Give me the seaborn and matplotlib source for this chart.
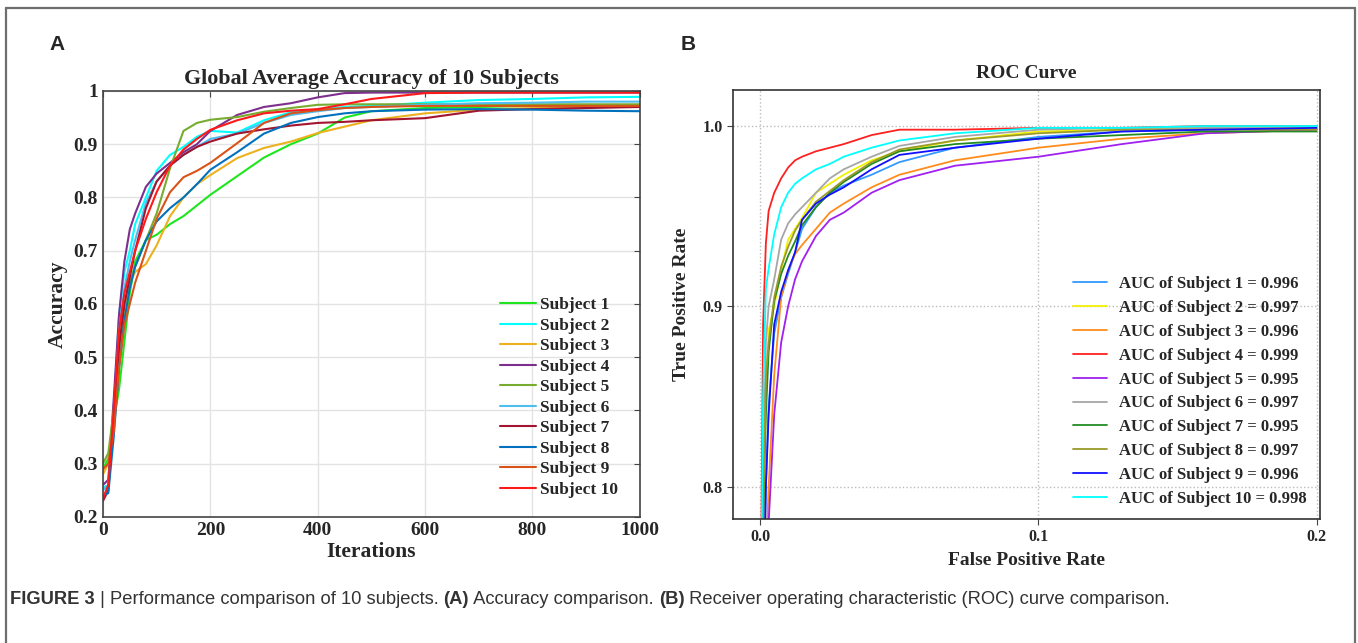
import matplotlib
matplotlib.use("Agg")
import matplotlib.pyplot as plt
import seaborn as sns
import pandas as pd
from matplotlib.lines import Line2D

sns.set_style("white")
plt.rcParams['font.family'] = ['Liberation Serif', 'DejaVu Serif']
plt.rcParams['font.weight'] = 'bold'

# ---- panel A: accuracy vs iterations ----
iters = [0, 10, 20, 30, 40, 50, 60, 80, 100, 125, 150, 175, 200, 250, 300,
         350, 400, 450, 500, 600, 700, 800, 900, 1000]
acc_s1 = [0.29, 0.31, 0.38, 0.44, 0.53, 0.62, 0.68, 0.72, 0.73, 0.75, 0.765, 0.785, 0.805, 0.84, 0.875,
          0.90, 0.92, 0.95, 0.962, 0.968, 0.97, 0.972, 0.972, 0.972]
acc_s2 = [0.255, 0.26, 0.40, 0.58, 0.66, 0.70, 0.75, 0.80, 0.85, 0.88, 0.895, 0.914, 0.925, 0.922, 0.945,
          0.96, 0.965, 0.97, 0.972, 0.978, 0.983, 0.985, 0.988, 0.989]
acc_s3 = [0.28, 0.30, 0.38, 0.50, 0.58, 0.64, 0.66, 0.675, 0.71, 0.765, 0.80, 0.825, 0.842, 0.874, 0.893,
          0.905, 0.921, 0.933, 0.945, 0.958, 0.965, 0.968, 0.97, 0.972]
acc_s4 = [0.26, 0.27, 0.42, 0.58, 0.68, 0.74, 0.77, 0.82, 0.845, 0.865, 0.885, 0.90, 0.925, 0.955, 0.97,
          0.977, 0.988, 0.996, 0.997, 0.997, 0.997, 0.997, 0.997, 0.997]
acc_s5 = [0.30, 0.32, 0.40, 0.52, 0.60, 0.64, 0.67, 0.72, 0.77, 0.855, 0.925, 0.94, 0.946, 0.951, 0.961,
          0.968, 0.974, 0.975, 0.975, 0.975, 0.975, 0.975, 0.975, 0.975]
acc_s6 = [0.25, 0.26, 0.38, 0.55, 0.63, 0.68, 0.72, 0.79, 0.83, 0.86, 0.88, 0.895, 0.91, 0.92, 0.94,
          0.955, 0.962, 0.968, 0.97, 0.974, 0.977, 0.978, 0.98, 0.98]
acc_s7 = [0.23, 0.25, 0.38, 0.52, 0.60, 0.65, 0.70, 0.78, 0.83, 0.86, 0.88, 0.895, 0.905, 0.92, 0.928,
          0.935, 0.94, 0.942, 0.945, 0.949, 0.963, 0.966, 0.968, 0.97]
acc_s8 = [0.24, 0.245, 0.35, 0.48, 0.57, 0.63, 0.67, 0.72, 0.755, 0.78, 0.80, 0.825, 0.852, 0.885, 0.92,
          0.94, 0.951, 0.958, 0.962, 0.965, 0.966, 0.965, 0.963, 0.962]
acc_s9 = [0.29, 0.30, 0.36, 0.48, 0.56, 0.60, 0.64, 0.70, 0.76, 0.81, 0.838, 0.85, 0.865, 0.902, 0.94,
          0.958, 0.964, 0.968, 0.97, 0.972, 0.972, 0.972, 0.972, 0.972]
acc_s10 = [0.235, 0.26, 0.40, 0.55, 0.62, 0.66, 0.70, 0.76, 0.81, 0.86, 0.89, 0.91, 0.927, 0.945, 0.958,
           0.963, 0.966, 0.975, 0.985, 0.996, 0.997, 0.997, 0.997, 0.997]
acc_all = [acc_s1, acc_s2, acc_s3, acc_s4, acc_s5, acc_s6, acc_s7, acc_s8, acc_s9, acc_s10]
acc_labels = ["Subject %d" % i for i in range(1, 11)]
acc_colors = ['#1ee61e', '#00ffff', '#edb120', '#7e2f8e', '#77ac30',
              '#4dbeee', '#a2142f', '#0072bd', '#d95319', '#ff1a1a']

# ---- panel B: ROC curves, zoomed ----
fpr = [0.0, 0.001, 0.002, 0.003, 0.005, 0.0075, 0.01, 0.0125, 0.015, 0.02, 0.025,
       0.03, 0.04, 0.05, 0.07, 0.10, 0.13, 0.16, 0.20]
tpr_s1 = [0.65, 0.73, 0.80, 0.845, 0.885, 0.905, 0.918, 0.93, 0.943, 0.955, 0.963,
          0.967, 0.973, 0.98, 0.988, 0.994, 0.997, 0.998, 0.998]
tpr_s2 = [0.70, 0.78, 0.85, 0.887, 0.90, 0.92, 0.937, 0.943, 0.949, 0.963, 0.968,
          0.973, 0.981, 0.986, 0.992, 0.997, 0.998, 0.999, 0.999]
tpr_s3 = [0.65, 0.70, 0.76, 0.80, 0.862, 0.905, 0.92, 0.929, 0.934, 0.943, 0.952,
          0.957, 0.966, 0.973, 0.981, 0.988, 0.993, 0.996, 0.998]
tpr_s4 = [0.70, 0.89, 0.935, 0.953, 0.963, 0.971, 0.977, 0.981, 0.983, 0.986, 0.988,
          0.99, 0.995, 0.998, 0.998, 0.999, 0.999, 1.0, 1.0]
tpr_s5 = [0.62, 0.68, 0.74, 0.78, 0.84, 0.88, 0.90, 0.915, 0.925, 0.939, 0.948,
          0.952, 0.963, 0.97, 0.978, 0.983, 0.99, 0.996, 0.998]
tpr_s6 = [0.70, 0.80, 0.88, 0.90, 0.915, 0.937, 0.946, 0.951, 0.955, 0.963, 0.971,
          0.976, 0.983, 0.989, 0.994, 0.998, 0.999, 0.999, 1.0]
tpr_s7 = [0.70, 0.78, 0.84, 0.875, 0.903, 0.918, 0.928, 0.936, 0.945, 0.955, 0.963,
          0.969, 0.979, 0.986, 0.99, 0.993, 0.995, 0.997, 0.997]
tpr_s8 = [0.70, 0.78, 0.86, 0.88, 0.905, 0.922, 0.933, 0.942, 0.948, 0.958, 0.964,
          0.97, 0.98, 0.987, 0.992, 0.996, 0.998, 0.998, 0.998]
tpr_s9 = [0.65, 0.72, 0.80, 0.84, 0.89, 0.908, 0.92, 0.93, 0.948, 0.957, 0.962,
          0.966, 0.976, 0.984, 0.988, 0.993, 0.997, 0.998, 0.999]
tpr_s10 = [0.70, 0.85, 0.91, 0.921, 0.94, 0.955, 0.963, 0.968, 0.971, 0.976, 0.979,
           0.983, 0.988, 0.992, 0.996, 0.999, 0.999, 1.0, 1.0]
tpr_all = [tpr_s1, tpr_s2, tpr_s3, tpr_s4, tpr_s5, tpr_s6, tpr_s7, tpr_s8, tpr_s9, tpr_s10]
auc_vals = [0.996, 0.997, 0.996, 0.999, 0.995, 0.997, 0.995, 0.997, 0.996, 0.998]
roc_colors = ['#3399ff', '#f2f200', '#ff8c1a', '#ff2020', '#a020f0',
              '#a6a6a6', '#228b22', '#9a9a2a', '#1010ff', '#00ffff']

fig = plt.figure(figsize=(13.58, 6.43), dpi=100)

# ---------- A ----------
axA = fig.add_axes([0.0758, 0.196, 0.3954, 0.6625])
for vals, lab, col in zip(acc_all, acc_labels, acc_colors):
    df = pd.DataFrame({"it": iters, "acc": vals})
    sns.lineplot(data=df, x="it", y="acc", color=col, lw=1.5, label=lab, ax=axA)
axA.set_xlim(0, 1000)
axA.set_ylim(0.2, 1.0)
axA.set_xticks([0, 200, 400, 600, 800, 1000])
axA.set_yticks([0.2, 0.3, 0.4, 0.5, 0.6, 0.7, 0.8, 0.9, 1.0])
axA.set_yticklabels(['0.2', '0.3', '0.4', '0.5', '0.6', '0.7', '0.8', '0.9', '1'])
axA.grid(True, color='#e3e3e3', lw=1)
axA.tick_params(direction='in', top=True, right=True, length=4, labelsize=14, color='#444444')
for s in axA.spines.values():
    s.set_color('#444444')
    s.set_linewidth(1.2)
axA.set_xlabel("Iterations", fontsize=15.5, fontweight='bold', labelpad=2)
axA.set_ylabel("Accuracy", fontsize=15.5, fontweight='bold', labelpad=4)
axA.set_title("Global Average Accuracy of 10 Subjects", fontsize=15.8, fontweight='bold', pad=5)
axA.legend(loc='upper left', bbox_to_anchor=(0.739, 0.516), frameon=False, fontsize=12.5,
           handlelength=2.1, handletextpad=0.2, labelspacing=0.25, borderpad=0, borderaxespad=0)

# ---------- B ----------
axB = fig.add_axes([0.5398, 0.1928, 0.4322, 0.6672])
for vals, a, col, i in zip(tpr_all, auc_vals, roc_colors, range(1, 11)):
    df = pd.DataFrame({"fpr": fpr, "tpr": vals})
    sns.lineplot(data=df, x="fpr", y="tpr", color=col, lw=1.3,
                 label="AUC of Subject %d = %.3f" % (i, a), ax=axB)
axB.set_xlim(-0.0098, 0.2012)
axB.set_ylim(0.782, 1.02)
axB.set_xticks([0.0, 0.1, 0.2])
axB.set_yticks([0.8, 0.9, 1.0])
axB.grid(True, color='#bbbbbb', ls=':', lw=1)
axB.tick_params(direction='out', length=4, labelsize=11.5, color='#444444', left=True, bottom=True)
for s in axB.spines.values():
    s.set_color('#333333')
    s.set_linewidth(1.2)
axB.set_xlabel("False Positive Rate", fontsize=14, fontweight='bold', labelpad=5)
axB.set_ylabel("True Positive Rate", fontsize=14, fontweight='bold', labelpad=9)
axB.set_title("ROC Curve", fontsize=14, fontweight='bold', pad=9)
axB.legend(loc='upper left', bbox_to_anchor=(0.579, 0.566), frameon=False, fontsize=12,
           handlelength=2.05, handletextpad=0.7, labelspacing=0.47, borderpad=0, borderaxespad=0)

# panel letters
fig.text(49 / 1358, 1 - 45 / 643, "A", family='Liberation Sans', fontsize=15, fontweight='bold', va='center')
fig.text(681 / 1358, 1 - 45 / 643, "B", family='Liberation Sans', fontsize=15, fontweight='bold', va='center')

# outer frame (open at the bottom)
for xs, ys in [([6, 6], [8, 643]), ([6, 1355], [8, 8]), ([1355, 1355], [8, 643])]:
    fig.add_artist(Line2D([x / 1358 for x in xs], [1 - y / 643 for y in ys], color='#6e6e6e', lw=1.6))

# caption with mixed weights
cap_parts = [("FIGURE 3", 'bold'), (" | Performance comparison of 10 subjects. ", 'normal'),
             ("(A)", 'bold'), (" Accuracy comparison. ", 'normal'), ("(B)", 'bold'),
             (" Receiver operating characteristic (ROC) curve comparison.", 'normal')]
renderer = fig.canvas.get_renderer()
x = 10 / 1358
for txt, w in cap_parts:
    t = fig.text(x, 1 - 600 / 643, txt, family='Liberation Sans',
                 fontsize=13.2, fontweight=w, va='center', color='#333333')
    x += t.get_window_extent(renderer).width / 1358

fig.savefig("out.png", dpi=100)
